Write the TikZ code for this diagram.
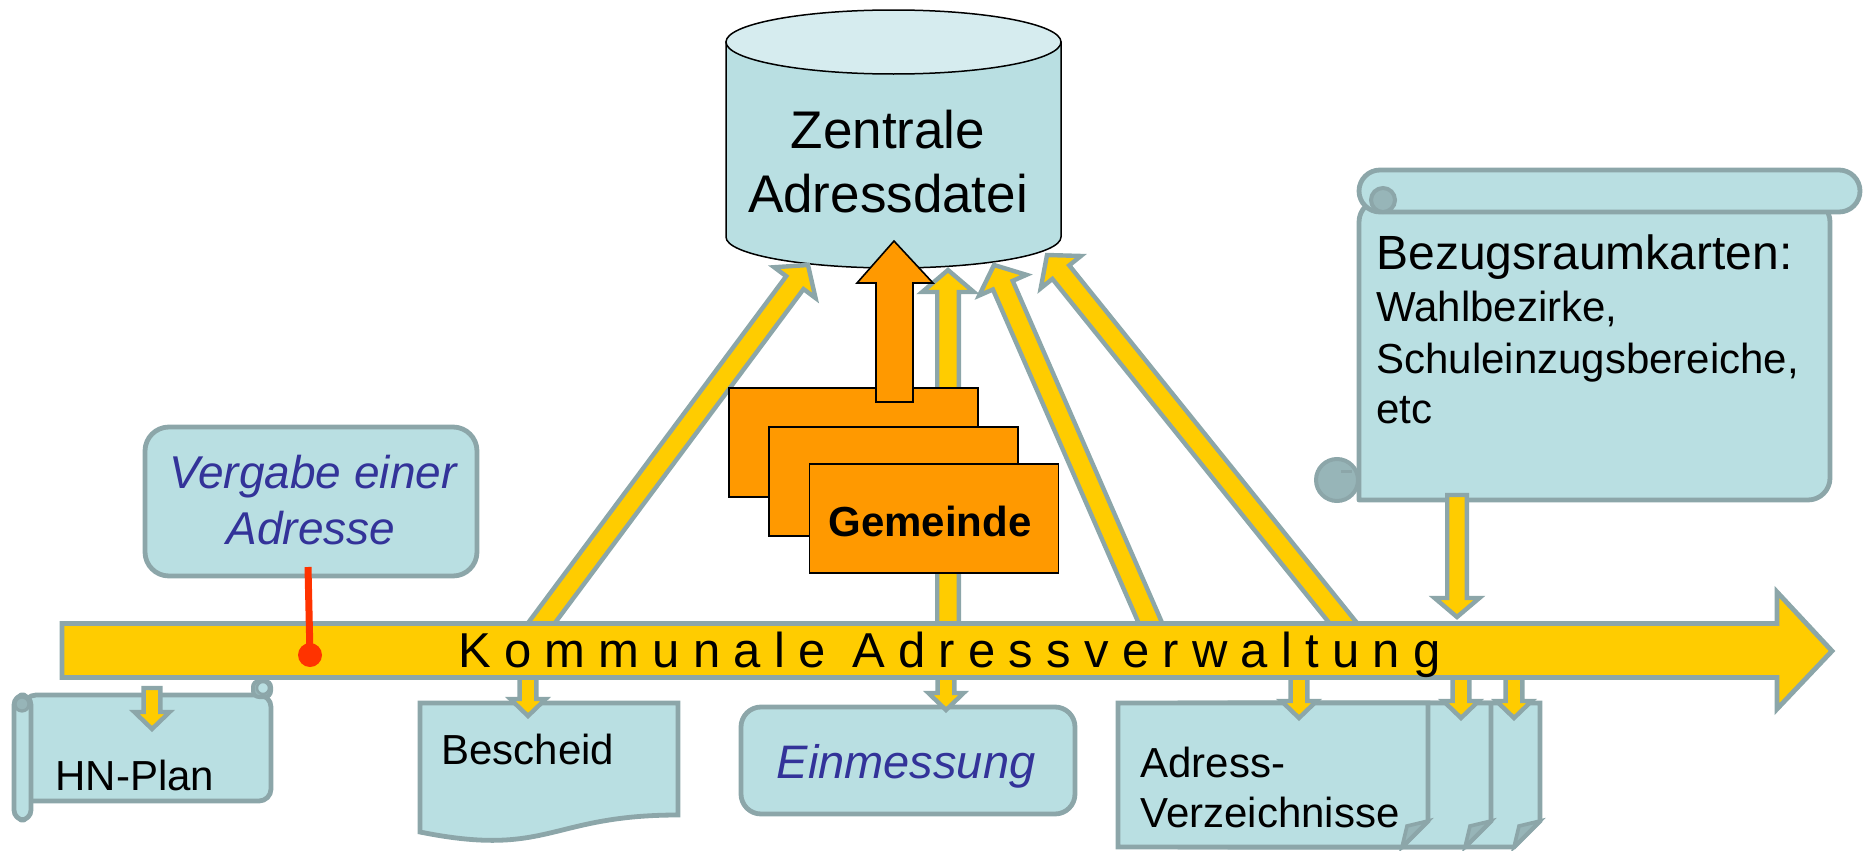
\documentclass[tikz,border=0pt]{standalone}
\usepackage{fontspec}
\setmainfont{Liberation Sans}
\newfontfamily\barfont[LetterSpace=27]{Liberation Sans}
\usetikzlibrary{calc}
\definecolor{ybar}{HTML}{FFCC00}
\definecolor{gline}{HTML}{8CA6A9}
\definecolor{boxfill}{HTML}{B9DFE2}
\definecolor{cyltop}{HTML}{D6ECEF}
\definecolor{curlfill}{HTML}{97B5B8}
\definecolor{orng}{HTML}{FF9900}
\definecolor{txtblue}{HTML}{333399}
\definecolor{redl}{HTML}{FF3300}
\tikzset{
  gbox/.style={fill=boxfill, draw=gline, line width=2.4pt, line join=round},
  curlp/.style={fill=curlfill, draw=gline, line width=2pt},
  yarr/.style={fill=ybar, draw=gline, line width=2.2pt, line join=miter},
  obox/.style={fill=orng, draw=black, line width=0.8pt, rectangle, inner sep=0pt,
    minimum width=124.5pt, minimum height=54.5pt},
  ptxt/.style={inner sep=0pt, anchor=base west, font=\fontsize{21pt}{25pt}\selectfont},
  btxt/.style={inner sep=0pt, anchor=base, text=txtblue, font=\fontsize{23pt}{28pt}\selectfont\itshape},
  ctxt/.style={inner sep=0pt, anchor=base, font=\fontsize{26.5pt}{32pt}\selectfont},
  redline/.style={draw=redl, line width=3.5pt},
}
% #1 style, #2 start, #3 tip, #4 half shaft, #5 half head, #6 head length
\newcommand\fatarrow[6][yarr]{%
  \coordinate (fatC) at ($(#3)!#6!(#2)$);
  \draw[#1] ($(#2)!#4!90:(#3)$) -- ($(fatC)!#4!-90:(#2)$) -- ($(fatC)!#5!-90:(#2)$)
    -- (#3) -- ($(fatC)!#5!90:(#2)$) -- ($(fatC)!#4!90:(#2)$) -- ($(#2)!#4!-90:(#3)$) -- cycle;}
\begin{document}
\begin{tikzpicture}[x=0.5pt,y=-0.5pt]
\useasboundingbox (0,0) rectangle (1864,851);

% ---------- cylinder: Zentrale Adressdatei ----------
\path[fill=boxfill, draw=black, line width=0.75pt] (726,42) -- (726,237)
   arc[start angle=180, end angle=360, x radius=83.75pt, y radius=15.5pt] -- (1061,42) -- cycle;
\path[fill=cyltop, draw=black, line width=0.75pt] (893.5,42) ellipse[x radius=83.75pt, y radius=16pt];
\node[inner sep=0pt, minimum width=167.5pt, minimum height=113pt] (zad) at (893.5,140) {};
\node[ctxt] (zad1) at (888,148) {Zentrale};
\node[ctxt] (zad2) at (888,212) {Adressdatei};

% ---------- Bezugsraumkarten scroll ----------
\path[gbox] (1359,200) -- (1359,500) [rounded corners=11pt] -- (1830,500) -- (1830,200) -- cycle;
\draw[gbox, rounded corners=10.5pt] (1359,170) rectangle (1860,212);
\draw[curlp] (1383,200) circle[radius=6pt];
\draw[curlp] (1337,480) circle[radius=10.5pt];
\draw[draw=gline, line width=1.5pt] (1341,471) -- (1352,471);
\node[inner sep=0pt, minimum width=236pt, minimum height=165pt] (bez) at (1594,335) {};
\node[ptxt, font=\fontsize{24pt}{28pt}\selectfont] (bez1) at (1376,269) {Bezugsraumkarten:};
\node[ptxt] (bez2) at (1376,321) {Wahlbezirke,};
\node[ptxt] (bez3) at (1376,373) {Schuleinzugsbereiche,};
\node[ptxt] (bez4) at (1376,423) {etc};

% ---------- HN-Plan scroll ----------
\path[gbox] (24,695) -- (24,801) [rounded corners=6pt] -- (271,801) -- (271,695) -- cycle;
\draw[gbox, rounded corners=5pt] (14,695) rectangle (31,820);
\draw[curlp, line width=1.6pt] (22,704) circle[radius=3.5pt];
\draw[curlp, line width=2pt, rounded corners=3pt] (253,681) rectangle (271,697);
\draw[gbox, line width=1.2pt] (263,688) circle[radius=3pt];
\node[ptxt] (hn) at (55,790) {HN-Plan};

% ---------- Bescheid (document) ----------
\draw[gbox, line join=miter] (420,703) -- (678,703) -- (678,815)
   .. controls (549,815) and (549,858) .. (420,832) -- cycle;
\node[ptxt] (besch) at (441,764) {Bescheid};

% ---------- Einmessung ----------
\node[gbox, rounded corners=10pt, minimum width=167pt, minimum height=53.5pt, inner sep=0pt] (einm) at (908,760.5) {};
\node[btxt, font=\fontsize{23.5pt}{28pt}\selectfont\itshape] (einmt) at (906,778) {Einmessung};

% ---------- Adress-Verzeichnisse (three documents) ----------
\draw[gbox, line join=miter] (1230,703) -- (1540,703) -- (1540,821) -- (1514,847) -- (1230,847) -- cycle;
\draw[curlp, line width=1.8pt, line join=miter] (1514,847) -- (1519,826) -- (1540,821) -- cycle;
\draw[gbox, line join=miter] (1180,703) -- (1491,703) -- (1491,821) -- (1465,847) -- (1180,847) -- cycle;
\draw[curlp, line width=1.8pt, line join=miter] (1465,847) -- (1470,826) -- (1491,821) -- cycle;
\draw[gbox, line join=miter] (1118,703) -- (1428,703) -- (1428,821) -- (1402,847) -- (1118,847) -- cycle;
\draw[curlp, line width=1.8pt, line join=miter] (1402,847) -- (1407,826) -- (1428,821) -- cycle;
\node[ptxt] (adr1) at (1140,777) {Adress-};
\node[ptxt] (adr2) at (1140,827) {Verzeichnisse};

% ---------- connector end points ----------
\coordinate (hnS) at (152,688);   \coordinate (hnT) at (152,729);
\coordinate (beS) at (528,672);   \coordinate (beT) at (528,716);
\coordinate (emS) at (946,672);   \coordinate (emT) at (946,710);
\coordinate (avS1) at (1299,672); \coordinate (avT1) at (1299,718);
\coordinate (avS2) at (1461,672); \coordinate (avT2) at (1461,718);
\coordinate (avS3) at (1514,672); \coordinate (avT3) at (1514,718);
\coordinate (bzS) at (1457,495);  \coordinate (bzT) at (1457,617);
\coordinate (u1S) at (537,629);   \coordinate (u1T) at (808,265);
\coordinate (u2S) at (948,630);   \coordinate (u2T) at (948,270);
\coordinate (u3S) at (1153,629);  \coordinate (u3T) at (994,265);
\coordinate (u4S) at (1348,629);  \coordinate (u4T) at (1047,255);

% ---------- small down arrows ----------
\fatarrow{hnS}{hnT}{4.2pt}{8.8pt}{8.5pt}
\fatarrow{beS}{beT}{4.2pt}{8.8pt}{8.5pt}
\fatarrow{emS}{emT}{4.2pt}{8.8pt}{8.5pt}
\fatarrow{avS1}{avT1}{4.2pt}{8.8pt}{8.5pt}
\fatarrow{avS2}{avT2}{4.2pt}{8.8pt}{8.5pt}
\fatarrow{avS3}{avT3}{4.2pt}{8.8pt}{8.5pt}
\fatarrow{bzS}{bzT}{4.9pt}{11.2pt}{9.5pt}

% ---------- up arrows to the database ----------
\fatarrow{u1S}{u1T}{5.4pt}{12.9pt}{11pt}
\fatarrow{u2S}{u2T}{5.4pt}{12.9pt}{11pt}
\fatarrow{u3S}{u3T}{5.4pt}{12.9pt}{11pt}
\fatarrow{u4S}{u4T}{5.4pt}{12.9pt}{11pt}

% ---------- main bar arrow ----------
\draw[yarr, line width=2.4pt] (62,623.5) -- (1777,623.5) -- (1777,592) -- (1832,651)
   -- (1777,709) -- (1777,677.5) -- (62,677.5) -- cycle;
\node[inner sep=0pt, anchor=base west, font=\barfont\fontsize{24.5pt}{29pt}\selectfont] (kav) at (458,667)
   {Kommunale Adressverwaltung};

% ---------- Gemeinde ----------
\node[obox] (g1) at (853.5,442.5) {};
\draw[fill=orng, draw=black, line width=0.8pt] (876,402) -- (876,283) -- (857,283) -- (894,241)
   -- (933,283) -- (913,283) -- (913,402) -- cycle;
\node[obox] (g2) at (893.5,481.5) {};
\node[obox] (g3) at (934,518.5) {};
\node[inner sep=0pt, anchor=base, font=\fontsize{21pt}{25pt}\selectfont\bfseries] (g3t) at (930,536) {Gemeinde};

% ---------- Vergabe einer Adresse ----------
\node[gbox, rounded corners=12pt, minimum width=166pt, minimum height=74.5pt, inner sep=0pt] (verg) at (311,501.5) {};
\node[btxt] (verg1) at (313,488) {Vergabe einer};
\node[btxt] (verg2) at (311,544) {Adresse};
\coordinate (rs) at (308,567);
\coordinate (rdot) at (310,655);
\draw[redline] (rs) -- (rdot);
\fill[redl] (rdot) circle[radius=6pt];
\end{tikzpicture}
\end{document}
